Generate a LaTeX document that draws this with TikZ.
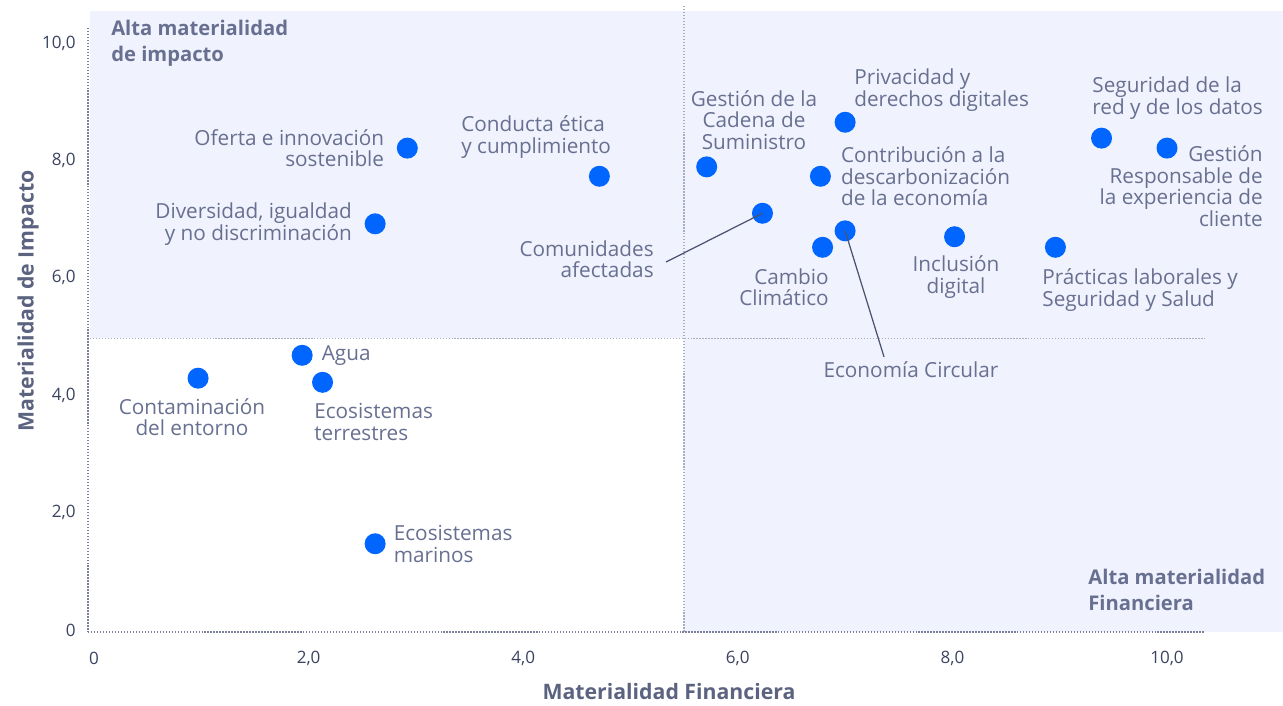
\documentclass[tikz,border=0pt]{standalone}
\usepackage{fontspec}
\setmainfont{Open Sans}
\usetikzlibrary{positioning}

\definecolor{fondo}{HTML}{F0F2FD}
\definecolor{azul}{HTML}{0066FF}
\definecolor{gristexto}{HTML}{687091}
\definecolor{grisoscuro}{HTML}{3B4360}
\definecolor{gristitulo}{HTML}{5B6380}
\definecolor{grisguia}{HTML}{4B5270}
\definecolor{grisejes}{HTML}{7A809C}
\definecolor{grisrejilla}{HTML}{A8ADC4}

\tikzset{
	punto/.style={circle, fill=azul, inner sep=0pt, minimum size=0.42cm},
	tema/.style={text=gristexto, inner sep=0pt, font=\fontsize{11.8}{12.3}\selectfont},
	cuadrante/.style={text=gristexto, inner sep=0pt, align=left, font=\bfseries\fontsize{11.5}{14.8}\selectfont},
	valor/.style={text=grisoscuro, inner sep=0pt, font=\fontsize{9.7}{11}\selectfont},
	titulo/.style={text=gristitulo, inner sep=0pt, font=\bfseries\fontsize{12.1}{13}\selectfont},
	punteado/.style={line width=0.8pt, dash pattern=on 0.8pt off 0.9pt},
	guia/.style={grisguia, line width=0.7pt}
}

\begin{document}
\begin{tikzpicture}[x=2.146cm, y=1.174cm]
	\useasboundingbox (-0.876,-1.278) rectangle (11.081,10.733);
	\fill[fondo] (-0.037,-0.034) rectangle (11.081,10.545);
	\fill[white] (-0.037,-0.034) rectangle (5.5,4.97);

	\draw[punteado, grisrejilla] (5.5,10.63) -- (5.5,-0.034);
	\draw[punteado, grisrejilla] (-0.037,4.97) -- (10.35,4.97);
	\draw[punteado, grisejes] (-0.056,10.26) -- (-0.056,-0.034);
	\draw[punteado, grisejes] (-0.056,-0.034) -- (10.35,-0.034);

	\foreach \v/\t in {0/0, 2/{2,0}, 4/{4,0}, 6/{6,0}, 8/{8,0}, 10/{10,0}} {
		\node[valor, anchor=east] (vy\v) at (-0.168,\v) {\t};
		\node[valor] (vx\v) at (\v,-0.477) {\t};
	}
	\node[titulo] (tituloX) at (5.359,-1.056) {Materialidad Financiera};
	\node[titulo, rotate=90] (tituloY) at (-0.615,5.605) {Materialidad de Impacto};

	\node[cuadrante, anchor=west] (altaImpacto) at (0.158,10.0) {Alta materialidad\\de impacto};
	\node[cuadrante, anchor=west] (altaFinanciera) at (9.264,0.681) {Alta materialidad\\Financiera};

	\node[punto] (oferta) at (2.92,8.21) {};
	\node[punto] (diversidad) at (2.62,6.92) {};
	\node[punto] (conducta) at (4.71,7.73) {};
	\node[punto] (cadena) at (5.71,7.89) {};
	\node[punto] (privacidad) at (7.0,8.65) {};
	\node[punto] (descarbonizacion) at (6.77,7.73) {};
	\node[punto] (comunidades) at (6.23,7.1) {};
	\node[punto] (cambio) at (6.79,6.52) {};
	\node[punto] (circular) at (7.0,6.8) {};
	\node[punto] (inclusion) at (8.02,6.7) {};
	\node[punto] (practicas) at (8.96,6.52) {};
	\node[punto] (seguridad) at (9.39,8.38) {};
	\node[punto] (experiencia) at (10.0,8.21) {};
	\node[punto] (agua) at (1.94,4.68) {};
	\node[punto] (contaminacion) at (0.97,4.29) {};
	\node[punto] (terrestres) at (2.13,4.22) {};
	\node[punto] (marinos) at (2.62,1.47) {};

	\node[tema, align=right, left=0.24cm of oferta] (ofertaT) {Oferta e innovación\\sostenible};
	\node[tema, align=right, left=0.24cm of diversidad] (diversidadT) {Diversidad, igualdad\\y no discriminación};
	\node[tema, align=left, anchor=west] (conductaT) at (3.420,8.399) {Conducta ética\\y cumplimiento};
	\node[tema, align=center] (cadenaT) at (6.151,8.688) {Gestión de la\\Cadena de\\Suministro};
	\node[tema, align=left, anchor=west] (privacidadT) at (7.083,9.199) {Privacidad y\\derechos digitales};
	\node[tema, align=left, right=0.19cm of descarbonizacion] (descarbonizacionT) {Contribución a la\\descarbonización\\de la economía};
	\node[tema, align=right, anchor=east] (comunidadesT) at (5.219,6.320) {Comunidades\\afectadas};
	\node[tema, align=right, anchor=east] (cambioT) at (6.850,5.843) {Cambio\\Climático};
	\node[tema] (circularT) at (7.614,4.429) {Economía Circular};
	\node[tema, align=center] (inclusionT) at (8.034,6.014) {Inclusión\\digital};
	\node[tema, align=left, anchor=west] (practicasT) at (8.835,5.792) {Prácticas laborales y\\Seguridad y Salud};
	\node[tema, align=left, anchor=west] (seguridadT) at (9.301,9.063) {Seguridad de la\\red y de los datos};
	\node[tema, align=right, anchor=east] (experienciaT) at (10.895,7.564) {Gestión\\Responsable de\\la experiencia de\\cliente};
	\node[tema, right=0.17cm of agua] (aguaT) {Agua};
	\node[tema, align=center] (contaminacionT) at (0.913,3.629) {Contaminación\\del entorno};
	\node[tema, align=left, anchor=west] (terrestresT) at (2.050,3.543) {Ecosistemas\\terrestres};
	\node[tema, align=left, right=0.15cm of marinos] (marinosT) {Ecosistemas\\marinos};

	\coordinate (guiaComunidades) at (5.331,6.269);
	\coordinate (guiaCircular) at (7.363,4.651);
	\draw[guia] (guiaComunidades) -- (comunidades.center);
	\draw[guia] (circular.center) -- (guiaCircular);
\end{tikzpicture}
\end{document}
